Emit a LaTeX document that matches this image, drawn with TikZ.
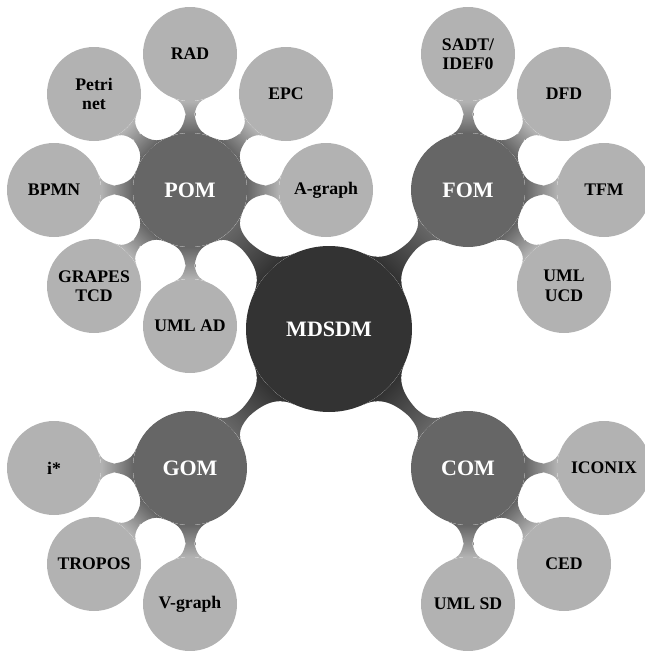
\documentclass[tikz,border=0pt]{standalone}
\usepackage{fontspec}
\setmainfont{Liberation Serif}
\usetikzlibrary{mindmap,backgrounds}
\begin{document}
\begin{tikzpicture}[x=1pt,y=-1pt,
  rootc/.style={circle,fill=black!80,minimum size=166pt,inner sep=0pt,text=white,align=center,font=\bfseries\fontsize{22}{24}\selectfont},
  midc/.style={circle,fill=black!60,minimum size=114pt,inner sep=0pt,text=white,align=center,font=\bfseries\fontsize{22}{24}\selectfont},
  leafc/.style={circle,fill=black!30,minimum size=94pt,inner sep=0pt,text=black,align=center,font=\bfseries\fontsize{17.7}{19.5}\selectfont},
  barA/.style={line width=9pt,circle connection bar switch color=from (black!80) to (black!60)},
  barB/.style={line width=9pt,circle connection bar switch color=from (black!60) to (black!30)}]
\useasboundingbox (0,0) rectangle (645,651);
\node[rootc] (root) at (329,329) {MDSDM};
\node[midc] (pom) at (190,190) {POM};
\node[midc] (fom) at (468,190) {FOM};
\node[midc] (gom) at (190,468) {GOM};
\node[midc] (com) at (468,468) {COM};
% POM
\node[leafc] (rad) at (190,54) {RAD};
\node[leafc] (petri) at (94,94) {Petri\\net};
\node[leafc] (epc) at (286,94) {EPC};
\node[leafc] (agraph) at (326,190) {A-graph};
\node[leafc] (bpmn) at (54,190) {BPMN};
\node[leafc] (grapes) at (94,286) {GRAPES\\TCD};
\node[leafc] (umlad) at (190,326) {UML AD};
% FOM
\node[leafc] (sadt) at (468,54) {SADT/\\IDEF0};
\node[leafc] (dfd) at (564,94) {DFD};
\node[leafc] (tfm) at (604,190) {TFM};
\node[leafc] (umlucd) at (564,286) {UML\\UCD};
% GOM
\node[leafc] (istar) at (54,468) {i*};
\node[leafc] (tropos) at (94,564) {TROPOS};
\node[leafc] (vgraph) at (190,604) {V-graph};
% COM
\node[leafc] (iconix) at (604,468) {ICONIX};
\node[leafc] (ced) at (564,564) {CED};
\node[leafc] (umlsd) at (468,604) {UML SD};
\begin{scope}[on background layer]
\path (root) to[barA] (pom);
\path (root) to[barA] (fom);
\path (root) to[barA] (gom);
\path (root) to[barA] (com);
\path (pom) to[barB] (rad);
\path (pom) to[barB] (petri);
\path (pom) to[barB] (epc);
\path (pom) to[barB] (agraph);
\path (pom) to[barB] (bpmn);
\path (pom) to[barB] (grapes);
\path (pom) to[barB] (umlad);
\path (fom) to[barB] (sadt);
\path (fom) to[barB] (dfd);
\path (fom) to[barB] (tfm);
\path (fom) to[barB] (umlucd);
\path (gom) to[barB] (istar);
\path (gom) to[barB] (tropos);
\path (gom) to[barB] (vgraph);
\path (com) to[barB] (iconix);
\path (com) to[barB] (ced);
\path (com) to[barB] (umlsd);
\end{scope}
\end{tikzpicture}
\end{document}
